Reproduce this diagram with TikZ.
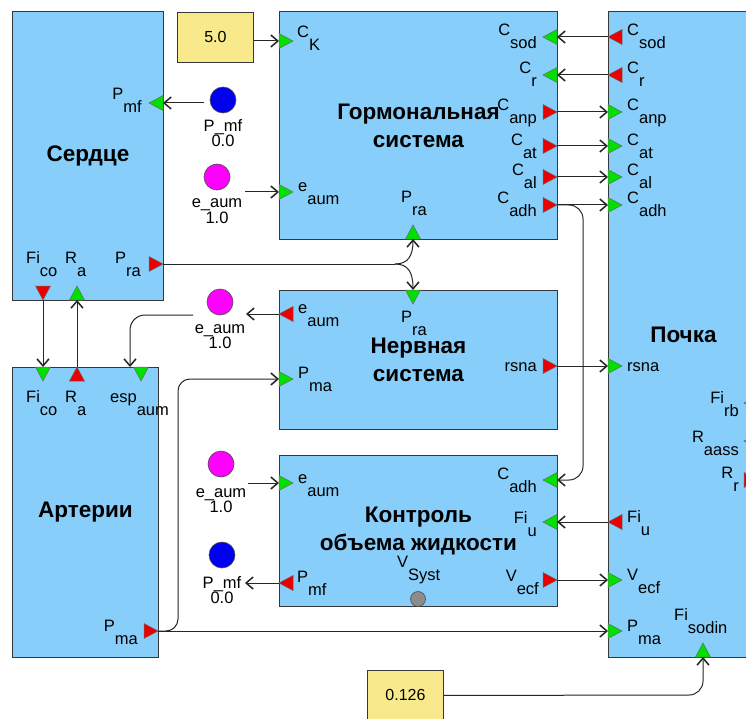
\documentclass[tikz,border=0pt]{standalone}
\usepackage{fontspec}
\setmainfont{Liberation Sans}
\usetikzlibrary{arrows.meta}
\definecolor{blk}{RGB}{135,206,250}
\definecolor{bord}{RGB}{55,55,55}
\definecolor{pg}{RGB}{0,225,0}
\definecolor{pr}{RGB}{235,0,0}
\definecolor{cyel}{RGB}{248,234,140}
\definecolor{cblue}{RGB}{0,0,240}
\definecolor{cmag}{RGB}{255,0,255}
\newcommand{\pl}[2]{#1\raisebox{-13pt}{#2}}
\newcommand{\gin}[3]{\coordinate (#1) at (#2); \pic[gport,rotate=#3] at (#1) {pin};}
\newcommand{\rout}[3]{\coordinate (#1) at (#2); \pic[rport,rotate=#3] at (#1) {pout};}
\begin{document}
\begin{tikzpicture}[x=1pt,y=-1pt,
  block/.style={draw=bord,fill=blk,line width=0.9pt,anchor=north west,inner sep=0pt,font=\fontsize{22.5}{28}\selectfont\bfseries,align=center},
  cbox/.style={draw=bord,fill=cyel,line width=0.9pt,anchor=north west,inner sep=0pt,font=\fontsize{16}{18}\selectfont},
  lab/.style={inner sep=0pt,font=\fontsize{16.5}{18}\selectfont},
  llab/.style={lab,anchor=base west},
  rlab/.style={lab,anchor=base east},
  clab/.style={lab,anchor=base},
  circ/.style={circle,draw=black!70,line width=0.6pt,minimum size=26pt,inner sep=0pt},
  link/.style={draw=black!85,line width=1pt,-{Straight Barb[length=7pt,width=12pt,line width=1.5pt]}},
  wire/.style={draw=black!85,line width=1pt},
  gport/.style={fill=pg,draw=black!60,line width=0.5pt},
  rport/.style={fill=pr,draw=black!60,line width=0.5pt},
  pin/.pic={\path[pic actions] (0,-7.5) -- (14,0) -- (0,7.5) -- cycle;},
  pout/.pic={\path[pic actions] (-14,-7.5) -- (0,0) -- (-14,7.5) -- cycle;}
]
\fill[white] (0,0) rectangle (746,719);
\useasboundingbox (0,0) rectangle (746,719);

% blocks
\node[block,minimum width=151pt,minimum height=289pt] (heart) at (12,11) {Сердце};
\node[block,minimum width=278pt,minimum height=228pt] (horm) at (279,11) {Гормональная\\система};
\node[block,minimum width=150pt,minimum height=646pt] (kid) at (608,11) {Почка};
\node[block,minimum width=278pt,minimum height=139pt] (nerv) at (279,290) {Нервная\\система};
\node[block,minimum width=146pt,minimum height=290pt] (art) at (12,367) {Артерии};
\node[block,minimum width=278pt,minimum height=151pt] (vol) at (279,455) {Контроль\\объема жидкости};

% constants
\node[cbox,minimum width=76pt,minimum height=50pt] (k1) at (177,12) {5.0};
\node[cbox,minimum width=76pt,minimum height=50pt] (k2) at (367,670) {0.126};

% circles
\node[circ,fill=cblue] (b1) at (223,100) {};
\node[clab] (b1n) at (223,132) {P\_mf};
\node[clab] (b1v) at (223,147) {0.0};
\node[circ,fill=cmag] (m1) at (217,177) {};
\node[clab] (m1n) at (217,208) {e\_aum};
\node[clab] (m1v) at (217,223) {1.0};
\node[circ,fill=cmag] (m2) at (220,302) {};
\node[clab] (m2n) at (220,333) {e\_aum};
\node[clab] (m2v) at (220,348) {1.0};
\node[circ,fill=cmag] (m3) at (221,464) {};
\node[clab] (m3n) at (221,497) {e\_aum};
\node[clab] (m3v) at (221,512) {1.0};
\node[circ,fill=cblue] (b2) at (222,555) {};
\node[clab] (b2n) at (222,588) {P\_mf};
\node[clab] (b2v) at (222,603) {0.0};
\node[circle,draw=black!70,fill=gray!90,line width=0.6pt,minimum size=15pt,inner sep=0pt] (vs) at (418,599) {};

% ports: heart
\gin{hrPmf}{163,103}{180}
\rout{hrPra}{163,264}{0}
\rout{hrFico}{43,300}{-90}
\gin{hrRa}{77,300}{90}
% arteries
\gin{arFico}{43,367}{-90}
\rout{arRa}{77,367}{90}
\gin{arEsp}{141,367}{-90}
\rout{arPma}{158,631}{0}
% hormonal
\gin{hoCK}{279,41}{0}
\gin{hoEaum}{279,192}{0}
\gin{hoPra}{413,239}{90}
\gin{hoCsod}{557,37}{180}
\gin{hoCr}{557,75}{180}
\rout{hoCanp}{557,112}{0}
\rout{hoCat}{557,146}{0}
\rout{hoCal}{557,177}{0}
\rout{hoCadh}{557,205}{0}
% kidney
\rout{kiCsod}{608,37}{180}
\rout{kiCr}{608,75}{180}
\gin{kiCanp}{608,112}{0}
\gin{kiCat}{608,146}{0}
\gin{kiCal}{608,177}{0}
\gin{kiCadh}{608,205}{0}
\gin{kiRsna}{608,366}{0}
\rout{kiFiu}{608,522}{180}
\gin{kiVecf}{608,580}{0}
\gin{kiPma}{608,631}{0}
\gin{kiFis}{703,657}{90}
\gin{kiFirb}{758,403}{180}
\gin{kiRaass}{758,441}{180}
\rout{kiRr}{758,480}{0}
% nervous
\gin{neRra}{413,290}{-90}
\rout{neEaum}{279,314}{180}
\gin{nePma}{279,379}{0}
\rout{neRsna}{557,366}{0}
% volume
\gin{voEaum}{279,483}{0}
\rout{voPmf}{279,583}{180}
\gin{voCadh}{557,480}{180}
\gin{voFiu}{557,522}{180}
\rout{voVecf}{557,580}{0}

% free link ends
\coordinate (b1o) at (204,103);
\coordinate (m1o) at (245,192);
\coordinate (m2i) at (246,314);
\coordinate (m2o) at (193,315);
\coordinate (arEspIn) at (130,367);
\coordinate (m3o) at (248,483);
\coordinate (b2i) at (245,583);
\coordinate (fork) at (395,264);

% connectors
\draw[link] (k1.east |- hoCK) -- (hoCK);
\draw[link] (b1o) -- (hrPmf);
\draw[link] (m1o) -- (hoEaum);
\draw[link] (kiCsod) -- (hoCsod);
\draw[link] (kiCr) -- (hoCr);
\draw[link] (hoCanp) -- (kiCanp);
\draw[link] (hoCat) -- (kiCat);
\draw[link] (hoCal) -- (kiCal);
\draw[link] (hoCadh) -- (kiCadh);
\draw[link,rounded corners=14pt] (hoCadh) -- (583,205) -- (583,480) -- (voCadh);
\draw[link] (neRsna) -- (kiRsna);
\draw[link] (kiFiu) -- (voFiu);
\draw[link] (voVecf) -- (kiVecf);
\draw[link] (arPma) -- (kiPma);
\draw[link,rounded corners=12pt] (arPma) -- (178,631) -- (178,379) -- (nePma);
\draw[link] (neEaum) -- (m2i);
\draw[link,rounded corners=15pt] (m2o) -- (130,315) -- (arEspIn);
\draw[link] (hrFico) -- (arFico);
\draw[link] (arRa) -- (hrRa);
\draw[wire] (hrPra) -- (fork);
\draw[link] (fork) .. controls (408,264) and (413,256) .. (hoPra);
\draw[link] (fork) .. controls (408,264) and (413,272) .. (neRra);
\draw[link] (m3o) -- (voEaum);
\draw[link] (voPmf) -- (b2i);
\draw[link,rounded corners=14pt] (k2.east) -- (703,695) -- (kiFis);

% labels: heart
\node[rlab] (lh1) at (142,100) {\pl{P}{mf}};
\node[llab] (lh2) at (26,263) {\pl{Fi}{co}};
\node[llab] (lh3) at (65,263) {\pl{R}{a}};
\node[llab] (lh4) at (115,263) {\pl{P}{ra}};
% arteries
\node[llab] (la1) at (26,402) {\pl{Fi}{co}};
\node[llab] (la2) at (65,402) {\pl{R}{a}};
\node[llab] (la3) at (110,402) {\pl{esp}{aum}};
\node[rlab] (la4) at (138,631) {\pl{P}{ma}};
% hormonal
\node[llab] (lo1) at (297,38) {\pl{C}{K}};
\node[llab] (lo2) at (298,192) {\pl{e}{aum}};
\node[llab] (lo3) at (401,203) {\pl{P}{ra}};
\node[rlab] (lo4) at (537,36) {\pl{C}{sod}};
\node[rlab] (lo5) at (537,74) {\pl{C}{r}};
\node[rlab] (lo6) at (537,111) {\pl{C}{anp}};
\node[rlab] (lo7) at (537,146) {\pl{C}{at}};
\node[rlab] (lo8) at (537,176) {\pl{C}{al}};
\node[rlab] (lo9) at (537,204) {\pl{C}{adh}};
% kidney
\node[llab] (lk1) at (627,36) {\pl{C}{sod}};
\node[llab] (lk2) at (627,74) {\pl{C}{r}};
\node[llab] (lk3) at (627,111) {\pl{C}{anp}};
\node[llab] (lk4) at (627,146) {\pl{C}{at}};
\node[llab] (lk5) at (627,176) {\pl{C}{al}};
\node[llab] (lk6) at (627,204) {\pl{C}{adh}};
\node[llab] (lk7) at (627,371) {rsna};
\node[llab] (lk8) at (627,522) {\pl{Fi}{u}};
\node[llab] (lk9) at (627,580) {\pl{V}{ecf}};
\node[llab] (lk10) at (627,631) {\pl{P}{ma}};
\node[llab] (lk11) at (674,620) {\pl{Fi}{sodin}};
\node[rlab] (lk12) at (739,403) {\pl{Fi}{rb}};
\node[rlab] (lk13) at (739,442) {\pl{R}{aass}};
\node[rlab] (lk14) at (739,478) {\pl{R}{r}};
% nervous
\node[llab] (ln1) at (298,313) {\pl{e}{aum}};
\node[llab] (ln2) at (401,322) {\pl{P}{ra}};
\node[llab] (ln3) at (298,378) {\pl{P}{ma}};
\node[rlab] (ln4) at (537,371) {rsna};
% volume
\node[llab] (lv1) at (298,483) {\pl{e}{aum}};
\node[llab] (lv2) at (297,582) {\pl{P}{mf}};
\node[rlab] (lv3) at (537,479) {\pl{C}{adh}};
\node[rlab] (lv4) at (537,523) {\pl{Fi}{u}};
\node[rlab] (lv5) at (539,581) {\pl{V}{ecf}};
\node[llab] (lv6) at (397,567) {\pl{V}{Syst}};
\end{tikzpicture}
\end{document}
